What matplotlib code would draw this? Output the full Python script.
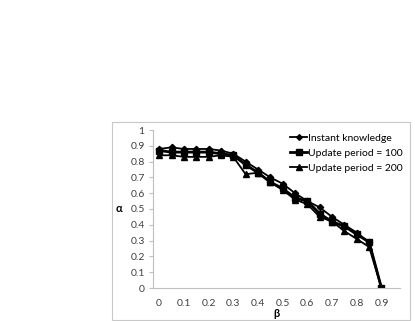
import matplotlib

matplotlib.use("Agg")
import matplotlib.pyplot as plt
from matplotlib.patches import Rectangle

beta = [0.0, 0.05, 0.1, 0.15, 0.2, 0.25, 0.3, 0.35, 0.4, 0.45,
        0.5, 0.55, 0.6, 0.65, 0.7, 0.75, 0.8, 0.85, 0.9]
instant = [0.88, 0.89, 0.88, 0.88, 0.88, 0.87, 0.85, 0.80, 0.75, 0.70,
           0.66, 0.60, 0.55, 0.51, 0.45, 0.40, 0.35, 0.29, 0.0]
update_100 = [0.87, 0.86, 0.86, 0.86, 0.86, 0.85, 0.84, 0.78, 0.73, 0.67,
              0.63, 0.57, 0.55, 0.47, 0.42, 0.39, 0.34, 0.29, 0.0]
update_200 = [0.84, 0.84, 0.83, 0.83, 0.83, 0.84, 0.83, 0.72, 0.73, 0.67,
              0.62, 0.56, 0.53, 0.45, 0.42, 0.36, 0.31, 0.26, 0.0]
x_ticks = [0.0, 0.1, 0.2, 0.3, 0.4, 0.5, 0.6, 0.7, 0.8, 0.9]
x_labels = ["0", "0.1", "0.2", "0.3", "0.4", "0.5", "0.6", "0.7", "0.8", "0.9"]
y_ticks = [0.0, 0.1, 0.2, 0.3, 0.4, 0.5, 0.6, 0.7, 0.8, 0.9, 1.0]
y_labels = ["0", "0.1", "0.2", "0.3", "0.4", "0.5", "0.6", "0.7", "0.8", "0.9", "1"]

W, H = 415, 321
plt.rcParams["font.family"] = ["Lato", "DejaVu Sans"]

fig = plt.figure(figsize=(W / 100, H / 100), dpi=100)

# outer chart frame
fig.patches.append(Rectangle((112 / W, 1 - 320 / H), (410 - 112) / W, (320 - 122) / H,
                             transform=fig.transFigure, fill=False,
                             edgecolor="#c8c8c8", linewidth=0.8))

ax = fig.add_axes([153 / W, 1 - 288 / H, (400 - 153) / W, (288 - 130) / H])
ax.plot(beta, instant, color="black", linewidth=1.3, marker="D", markersize=3.2,
        label="Instant knowledge")
ax.plot(beta, update_100, color="black", linewidth=2.0, marker="s", markersize=5,
        label="Update period = 100")
ax.plot(beta, update_200, color="black", linewidth=1.3, marker="^", markersize=5,
        label="Update period = 200")

ax.set_xlim(-0.025, 0.975)
ax.set_ylim(0, 1)
ax.set_xticks(x_ticks)
ax.set_xticklabels(x_labels)
ax.set_yticks(y_ticks)
ax.set_yticklabels(y_labels)
ax.tick_params(axis="x", length=0, pad=8, labelsize=7.5, labelcolor="#404040")
ax.tick_params(axis="y", length=3, width=0.8, color="#bfbfbf", pad=3,
               labelsize=7.5, labelcolor="#404040")
for side in ("top", "right"):
    ax.spines[side].set_visible(False)
for side in ("left", "bottom"):
    ax.spines[side].set_color("#bfbfbf")
    ax.spines[side].set_linewidth(0.8)

ax.set_xlabel("β", fontsize=8, labelpad=0, fontweight="bold")
ax.set_ylabel("α", fontsize=8, rotation=0, labelpad=8, va="center", fontweight="bold")

ax.legend(loc="upper left", bbox_to_anchor=(133 / 247, 1.004), frameon=False, fontsize=7.5,
          handlelength=1.6, handletextpad=0.1, labelspacing=0.55, markerscale=0.9,
          borderaxespad=0.0)

fig.savefig("out.png", dpi=100)
